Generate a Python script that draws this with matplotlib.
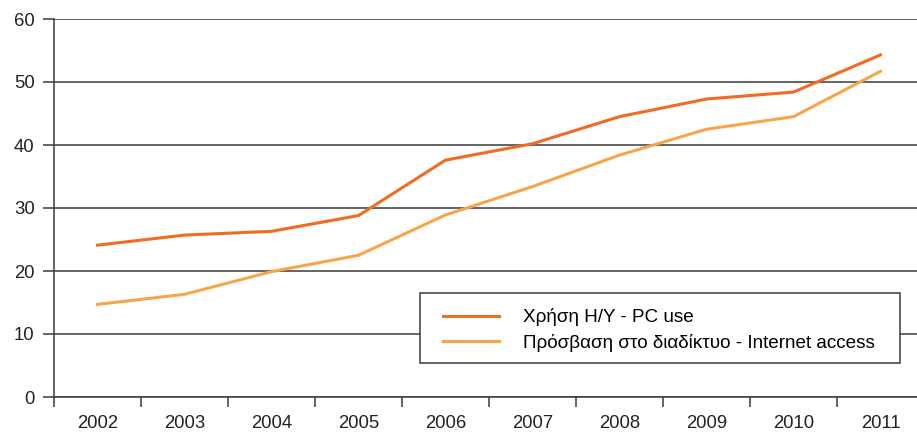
import matplotlib
matplotlib.use("Agg")
import matplotlib.pyplot as plt
from matplotlib.patches import Rectangle
import numpy as np

plt.rcParams['font.family'] = ['Liberation Sans', 'DejaVu Sans']

years = ["2002", "2003", "2004", "2005", "2006", "2007", "2008", "2009", "2010", "2011"]
pc_use = [24.1, 25.7, 26.3, 28.8, 37.6, 40.2, 44.5, 47.3, 48.4, 54.3]
internet = [14.7, 16.3, 19.9, 22.5, 28.9, 33.4, 38.4, 42.5, 44.5, 51.7]
yticks = [0, 10, 20, 30, 40, 50, 60]
label_pc = "Χρήση Η/Υ - PC use"
label_net = "Πρόσβαση στο διαδίκτυο - Internet access"

W, H = 917, 432
FS = 13.3
LFS = 13.6
fig = plt.figure(figsize=(W / 100, H / 100), dpi=100)
left, right, top, bottom = 54, 924, 19, 397
ax = fig.add_axes([left / W, 1 - bottom / H, (right - left) / W, (bottom - top) / H])

x = np.arange(len(years))
ax.plot(x, pc_use, color="#F26B21", lw=2.2, label=label_pc, zorder=3, solid_joinstyle="miter")
ax.plot(x, internet, color="#F8A54A", lw=2.2, label=label_net, zorder=3, solid_joinstyle="miter")

ax.set_xlim(-0.5, len(years) - 0.5)
ax.set_ylim(0, 60)
ax.set_yticks(yticks)
ax.set_yticklabels([str(v) for v in yticks], fontsize=FS, color="#222222")
ax.yaxis.grid(True, color="#3a3a3a", lw=1.1)
ax.set_axisbelow(True)

ax.set_xticks(x)
ax.set_xticklabels(years, fontsize=FS, color="#222222")
ax.tick_params(axis="x", which="major", length=0, pad=13)
ax.set_xticks(np.arange(-0.5, len(years), 1.0), minor=True)
ax.tick_params(axis="x", which="minor", length=7.5, width=1.1, color="#3a3a3a", direction="out")
ax.tick_params(axis="y", length=8, width=1.1, color="#3a3a3a", pad=6)

for s in ["top", "right"]:
    ax.spines[s].set_visible(False)
for s in ["left", "bottom"]:
    ax.spines[s].set_color("#3a3a3a")
    ax.spines[s].set_linewidth(1.1)

# legend box
bx0, by0, bx1, by1 = 420, 293, 900, 363
rect = Rectangle((bx0 / W, 1 - by1 / H), (bx1 - bx0) / W, (by1 - by0) / H,
                 transform=fig.transFigure, facecolor="white", edgecolor="#3a3a3a",
                 lw=1.1, zorder=4)
ax.add_patch(rect)
rect.set_clip_on(False)

leg = ax.legend(loc="center left", bbox_to_anchor=(443 / W, 1 - 330 / H),
                bbox_transform=fig.transFigure,
                fontsize=LFS, frameon=False, borderaxespad=0, borderpad=0,
                handlelength=2.95, handletextpad=1.3, labelspacing=0.38)
leg.set_zorder(5)

fig.savefig("out.png", dpi=100)
